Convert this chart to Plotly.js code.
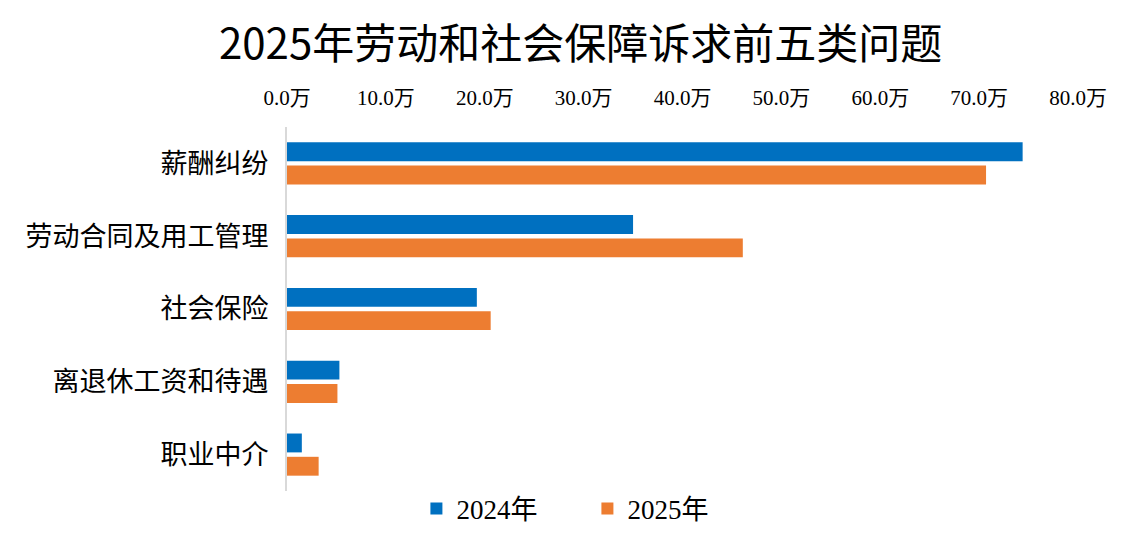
<!DOCTYPE html>
<html>
<head>
<meta charset="utf-8">
<script src="https://cdn.plot.ly/plotly-3.0.1.min.js"></script>
<style>
  body { margin: 0; background: #fff; }
  #chart { width: 1134px; height: 538px; }
</style>
</head>
<body>
<div id="chart"></div>
<script>
// five biggest complaint types, in 万 (10k cases)
const categories = ["薪酬纠纷", "劳动合同及用工管理", "社会保险", "离退休工资和待遇", "职业中介"];
const values2024 = [74.4, 35.0, 19.2, 5.3, 1.5];
const values2025 = [70.7, 46.1, 20.6, 5.1, 3.2];
const seriesNames = ["2024年", "2025年"];

const serif = "Liberation Serif, Noto Sans CJK SC, serif";

var data = [
  {
    type: "bar",
    orientation: "h",
    name: seriesNames[0],
    y: categories,
    x: values2024,
    marker: { color: "#0070C0" },
    hoverinfo: "x+y",
  },
  {
    type: "bar",
    orientation: "h",
    name: seriesNames[1],
    y: categories,
    x: values2025,
    marker: { color: "#ED7D31" },
    hoverinfo: "x+y",
  },
];

var layout = {
  width: 1134,
  height: 538,
  margin: { l: 287, r: 56, t: 127, b: 47, autoexpand: false },
  paper_bgcolor: "#fff",
  plot_bgcolor: "#fff",
  barmode: "group",
  bargap: 0.36,
  bargroupgap: 0.19,
  showlegend: true,
  title: {
    text: "2025年劳动和社会保障诉求前五类问题",
    font: { family: "Noto Sans CJK SC, sans-serif", size: 42, color: "#000" },
    xref: "container",
    x: 0.512,
    xanchor: "center",
    yref: "container",
    y: 0.918,
    yanchor: "middle",
  },
  xaxis: {
    side: "top",
    range: [0, 80],
    dtick: 10,
    tick0: 0,
    tickformat: ".1f",
    ticksuffix: "万",
    showgrid: false,
    zeroline: false,
    showline: false,
    ticks: "",
    ticklabelstandoff: 17,
    tickfont: { family: serif, size: 21, color: "#000" },
    fixedrange: true,
  },
  yaxis: {
    autorange: "reversed",
    showgrid: false,
    zeroline: false,
    showline: true,
    linecolor: "#D9D9D9",
    linewidth: 2,
    ticks: "",
    ticklabelstandoff: 11,
    tickfont: { family: serif, size: 27, color: "#000" },
    fixedrange: true,
  },
  legend: {
    orientation: "h",
    xref: "container",
    x: 0.518,
    xanchor: "center",
    yref: "container",
    y: 0.054,
    yanchor: "middle",
    font: { family: serif, size: 27, color: "#000" },
    entrywidth: 126,
    entrywidthmode: "pixels",
    itemwidth: 30,
    tracegroupgap: 0,
  },
};

Plotly.newPlot("chart", data, layout, { displayModeBar: false, staticPlot: true });
</script>
</body>
</html>
